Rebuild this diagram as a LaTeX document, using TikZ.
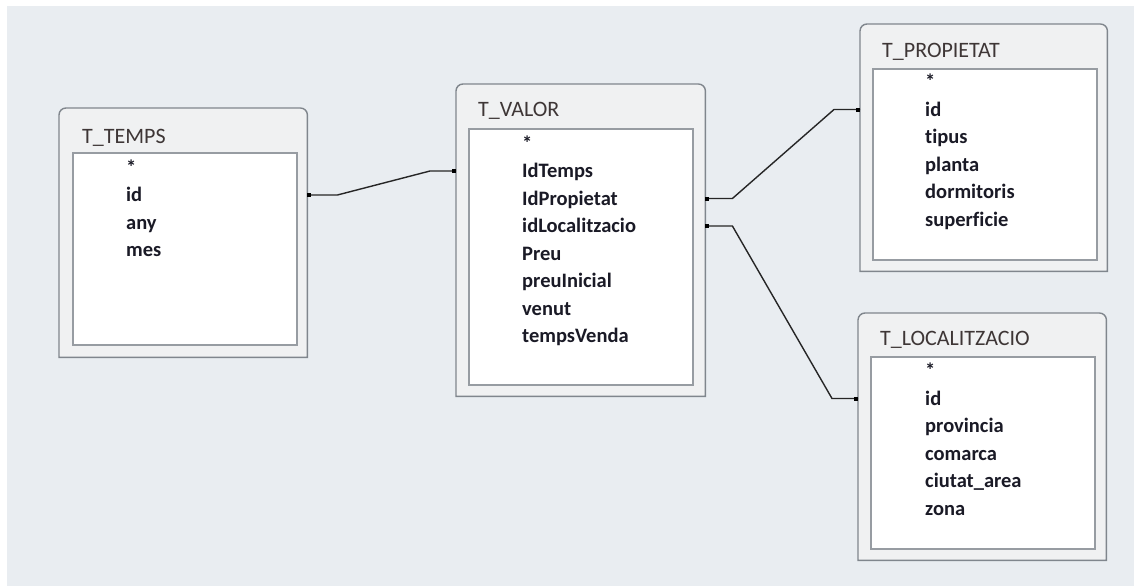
\documentclass[tikz,border=0pt]{standalone}
\usepackage{fontspec}
\setmainfont{Carlito}[Ligatures=NoCommon]
\usetikzlibrary{calc}

\definecolor{bgcol}{HTML}{E9EDF1}
\definecolor{framecol}{HTML}{80868D}
\definecolor{framefill}{HTML}{F0F1F2}
\definecolor{titlecol}{HTML}{3E3636}
\definecolor{fieldcol}{HTML}{1A1A26}
\definecolor{innerline}{HTML}{979CA2}

% table frame, rounded at the top only
\newcommand\tblframe[1]{%
  \draw[frame] (#1.south west) -- ([yshift=-7pt]#1.north west)
    arc[start angle=180, end angle=90, radius=7pt] -- ([xshift=-7pt]#1.north east)
    arc[start angle=90, end angle=0, radius=7pt] -- (#1.south east) -- cycle;}

\begin{document}
\begin{tikzpicture}[x=1pt, y=-1pt,
  tbl/.style={rectangle, inner sep=0pt, anchor=north west},
  frame/.style={draw=framecol, line width=1.4pt, fill=framefill},
  fieldbox/.style={rectangle, draw=innerline, line width=1.6pt, fill=white,
                   inner sep=0pt, anchor=north west},
  tbltitle/.style={anchor=base west, inner sep=0pt,
                   font=\fontsize{22}{24}\selectfont, text=titlecol},
  field/.style={anchor=base west, inner sep=0pt,
                font=\bfseries\fontsize{20.5}{24}\selectfont, text=fieldcol},
  link/.style={line width=1.4pt, black!85}]

\fill[white] (0,0) rectangle (1134,586);
\fill[bgcol] (7,6) rectangle (1134,586);
\useasboundingbox (0,0) rectangle (1134,586);

% T_TEMPS
\node[tbl, minimum width=248, minimum height=249] (temps) at (59,108) {};
\tblframe{temps}
\node[fieldbox, minimum width=224, minimum height=192] (tempsbox) at (72,152) {};
\node[tbltitle] (tempstitle) at (82,143) {T\_TEMPS};
\foreach \f [count=\i from 0] in {*, id, any, mes}
  \node[field] (temps-\i) at (126,{174+27.5*\i}) {\f};

% T_VALOR
\node[tbl, minimum width=249, minimum height=312] (valor) at (456,84) {};
\tblframe{valor}
\node[fieldbox, minimum width=224, minimum height=256] (valorbox) at (468,128) {};
\node[tbltitle] (valortitle) at (478,116) {T\_VALOR};
\foreach \f [count=\i from 0] in {*, IdTemps, IdPropietat, idLocalitzacio,
                                  Preu, preuInicial, venut, tempsVenda}
  \node[field] (valor-\i) at (522,{150+27.5*\i}) {\f};

% T_PROPIETAT
\node[tbl, minimum width=247, minimum height=247] (propietat) at (860,24) {};
\tblframe{propietat}
\node[fieldbox, minimum width=224, minimum height=191] (propietatbox) at (872,68) {};
\node[tbltitle] (propietattitle) at (882,57) {T\_PROPIETAT};
\foreach \f [count=\i from 0] in {*, id, tipus, planta, dormitoris, superficie}
  \node[field] (propietat-\i) at (925,{88.5+27.5*\i}) {\f};

% T_LOCALITZACIO
\node[tbl, minimum width=248, minimum height=247] (localitzacio) at (858,313) {};
\tblframe{localitzacio}
\node[fieldbox, minimum width=224, minimum height=192] (localitzaciobox) at (870,356) {};
\node[tbltitle] (localitzaciotitle) at (880,345.5) {T\_LOCALITZACIO};
\foreach \f [count=\i from 0] in {*, id, provincia, comarca, ciutat\_area, zona}
  \node[field] (localitzacio-\i) at (925,{377.5+27.5*\i}) {\f};

% ports
\path (temps.east |- temps-1.base) ++(0,-6.5) coordinate (tempsid);
\path (valor.west |- valor-1.base) ++(0,-6.5) coordinate (valortemps);
\path (valor.east |- valor-2.base) ++(0,-6.5) coordinate (valorprop);
\path (valor.east |- valor-3.base) ++(0,-6.5) coordinate (valorloc);
\path (propietat.west |- propietat-1.base) ++(0,-6.5) coordinate (propid);
\path (localitzacio.west |- localitzacio-1.base) ++(0,-6.5) coordinate (locid);

% relations
\draw[link] (tempsid) -- ++(30,0) -- ($(valortemps)+(-26,0)$) -- (valortemps);
\draw[link] (valorprop) -- ++(27,0) -- ($(propid)+(-26,0)$) -- (propid);
\draw[link] (valorloc) -- ++(27,0) -- ($(locid)+(-26,0)$) -- (locid);
\foreach \p/\s in {tempsid/1, valortemps/-1, valorprop/1, valorloc/1, propid/-1, locid/-1}
  \fill[black] ($(\p)+(2*\s,0)$) ++(-2,-2) rectangle ++(4,4);

\end{tikzpicture}
\end{document}
